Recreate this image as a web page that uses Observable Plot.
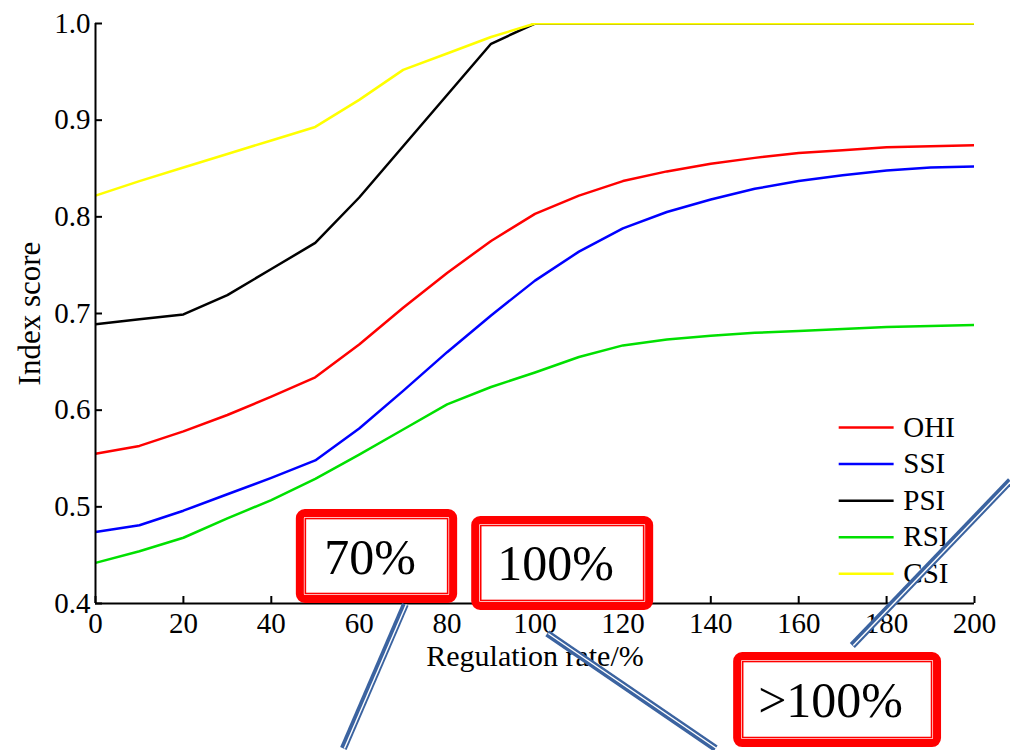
<!DOCTYPE html>
<html>
<head>
<meta charset="utf-8">
<script src="https://cdn.jsdelivr.net/npm/d3@7"></script>
<script src="https://cdn.jsdelivr.net/npm/@observablehq/plot@0.6"></script>
<style>
  html, body { margin: 0; padding: 0; background: #fff; }
  #chart { width: 1010px; height: 750px; overflow: hidden; }
</style>
</head>
<body>
<div id="chart"></div>
<script>
// ---- data ----
const rates = [0,10,20,30,40,50,60,70,80,90,100,110,120,130,140,150,160,170,180,190,200];
const seriesNames = ["OHI","SSI","PSI","RSI","CSI"];
const seriesColors = ["#ff0000","#0000ff","#000000","#00e000","#ffff00"];
const OHI = [0.555,0.563,0.578,0.595,0.614,0.634,0.668,0.706,0.742,0.775,0.803,0.822,0.837,0.847,0.855,0.861,0.866,0.869,0.872,0.873,0.874];
const SSI = [0.474,0.481,0.496,0.513,0.530,0.548,0.581,0.620,0.660,0.698,0.734,0.764,0.788,0.805,0.818,0.829,0.837,0.843,0.848,0.851,0.852];
const PSI = [0.689,0.694,0.699,0.719,0.746,0.773,0.820,0.873,0.926,0.979,1.0,1.0,1.0,1.0,1.0,1.0,1.0,1.0,1.0,1.0,1.0];
const RSI = [0.442,0.454,0.468,0.488,0.507,0.529,0.554,0.580,0.606,0.624,0.639,0.655,0.667,0.673,0.677,0.680,0.682,0.684,0.686,0.687,0.688];
const CSI = [0.822,0.837,0.851,0.865,0.879,0.893,0.921,0.952,0.969,0.986,1.0,1.0,1.0,1.0,1.0,1.0,1.0,1.0,1.0,1.0,1.0];
const xTicks = [0,20,40,60,80,100,120,140,160,180,200];
const yTicks = [0.4,0.5,0.6,0.7,0.8,0.9,1.0];

// annotation callouts (data units)
const boxLabels = ["70%","100%",">100%"];
const boxX1 = [45.7, 85.6, 145.2];
const boxX2 = [82.4, 127.0, 192.5];
const boxY1 = [0.400, 0.3928, 0.2510];
const boxY2 = [0.4972, 0.4900, 0.3493];
const connX1 = [70.5, 102.8, 172.2];
const connY1 = [0.399, 0.369, 0.3566];
const connX2 = [56.4, 141.1, 208.2];
const connY2 = [0.250, 0.250, 0.527];

// ---- build tables ----
const allSeries = {OHI, SSI, PSI, RSI, CSI};
const rows = seriesNames.flatMap(name => rates.map((r, i) => ({rate: r, score: allSeries[name][i], series: name})));
const legendRows = seriesNames.map((name, i) => ({name, i, y: 0.582 - i * 0.0378}));
const boxes = boxLabels.map((t, i) => ({t, x1: boxX1[i], x2: boxX2[i], y1: boxY1[i], y2: boxY2[i]}));
const conns = connX1.map((x, i) => ({x1: x, y1: connY1[i], x2: connX2[i], y2: connY2[i]}));

const font = "'Liberation Serif', 'Times New Roman', serif";
const blue = "#3b63a0";

const chart = Plot.plot({
  width: 1010,
  height: 750,
  marginLeft: 95,
  marginRight: 36,
  marginTop: 23,
  marginBottom: 147,
  style: {fontFamily: font, fontSize: "29px", color: "#000", background: "#fff", overflow: "visible"},
  x: {domain: [0, 200], label: null},
  y: {domain: [0.4, 1.0], label: null},
  color: {domain: seriesNames, range: seriesColors},
  marks: [
    Plot.line(rows, {x: "rate", y: "score", z: "series", stroke: "series", strokeWidth: 2.5, clip: true}),
    Plot.ruleY([0.4], {stroke: "#000", strokeWidth: 2}),
    Plot.ruleX([0], {stroke: "#000", strokeWidth: 2}),
    Plot.axisX(xTicks, {tickSize: -7, tickPadding: 16, strokeWidth: 2, fontSize: 29, tickFormat: d => String(d)}),
    Plot.axisY(yTicks, {tickSize: -7, tickPadding: 12, strokeWidth: 2, fontSize: 29, tickFormat: d3.format(".1f")}),
    Plot.text(["Index score"], {frameAnchor: "left", textAnchor: "middle", dx: -65, rotate: -90, fontSize: 31, text: d => d}),
    Plot.text(["Regulation rate/%"], {frameAnchor: "bottom", textAnchor: "middle", dy: 62, fontSize: 30, text: d => d}),
    // legend
    Plot.link(legendRows, {x1: 169.1, x2: 181.6, y1: "y", y2: "y", stroke: d => d.name, strokeWidth: 2.5}),
    Plot.text(legendRows, {x: 183.8, y: "y", text: "name", textAnchor: "start", fontSize: 29}),
    // callout boxes
    Plot.rect(boxes, {x1: "x1", x2: "x2", y1: "y1", y2: "y2", inset: 4, fill: "#fff", stroke: "#ff0000", strokeWidth: 8, rx: 5}),
    Plot.rect(boxes, {x1: "x1", x2: "x2", y1: "y1", y2: "y2", inset: 9.5, fill: "none", stroke: "#ff0000", strokeWidth: 1.6}),
    Plot.text(boxes, {x: d => (d.x1 + d.x2) / 2, y: d => (d.y1 + d.y2) / 2, text: "t", fontSize: 50, dy: 1, dx: -7}),
    // connector lines
    Plot.link(conns, {x1: "x1", y1: "y1", x2: "x2", y2: "y2", stroke: blue, strokeWidth: 7}),
    Plot.link(conns, {x1: "x1", y1: "y1", x2: "x2", y2: "y2", stroke: "#fff", strokeWidth: 1.4, dx: 1})
  ]
});
document.getElementById("chart").appendChild(chart);
</script>
</body>
</html>
